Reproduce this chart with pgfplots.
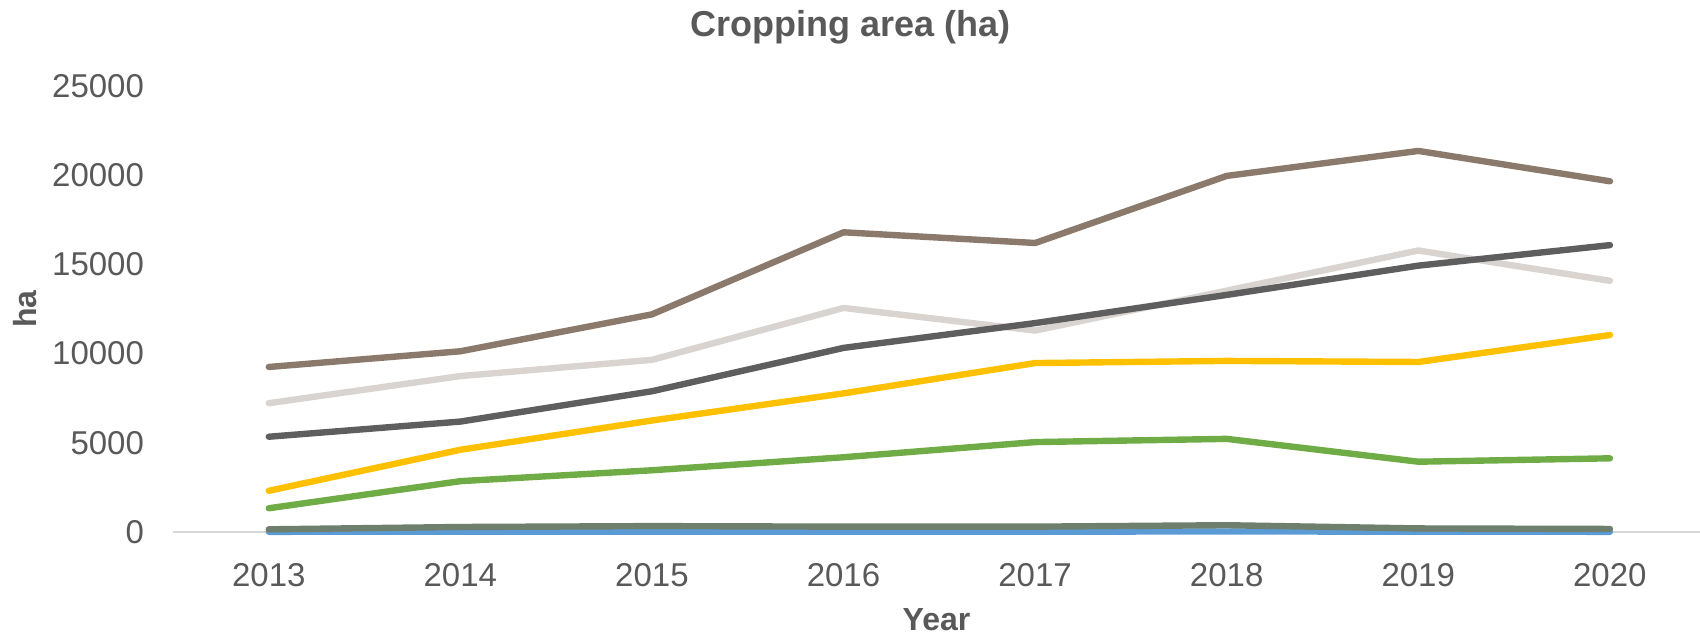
\documentclass[border=0pt]{standalone}
\usepackage{pgfplots}
\pgfplotsset{compat=1.18}
\usepackage{fontspec}
\setmainfont{Liberation Sans}
\definecolor{txt}{HTML}{595959}
\definecolor{cBrown}{HTML}{8B7A6B}
\definecolor{cLight}{HTML}{D9D4CF}
\definecolor{cDark}{HTML}{5E5E5E}
\definecolor{cYellow}{HTML}{FFC000}
\definecolor{cGreen}{HTML}{6FAC46}
\definecolor{cGG}{HTML}{6E7F6E}
\definecolor{cBlue}{HTML}{5B9BD5}
\definecolor{grid}{HTML}{D9D9D9}
\begin{document}
\begin{tikzpicture}
\useasboundingbox (0,0) rectangle (850pt,318pt);
\begin{axis}[
  at={(86.5pt,52pt)}, anchor=south west,
  scale only axis, width=763.5pt, height=223pt,
  xmin=2012.5, xmax=2020.47, ymin=0, ymax=25000,
  clip=false,
  axis line style={draw=none},
  xtick={2013,...,2020}, ytick={0,5000,...,25000},
  tick style={draw=none},
  scaled y ticks=false,
  /pgf/number format/assume math mode=true,
  xticklabel={\pgfmathprintnumber[1000 sep={},fixed]{\tick}},
  yticklabel={\pgfmathprintnumber[1000 sep={},fixed]{\tick}},
  tick label style={font=\fontsize{16.5}{18}\selectfont, text=txt},
  yticklabel style={anchor=east, xshift=-11pt},
  xticklabel style={anchor=north, yshift=-12pt},
  title={Cropping area (ha)},
  title style={font=\fontsize{18}{20}\selectfont\bfseries, text=txt, at={(axis description cs:0.4434,1)}, anchor=center, yshift=23.5pt},
  xlabel={Year}, ylabel={ha},
  xlabel style={font=\fontsize{16}{18}\selectfont\bfseries, text=txt, at={(axis description cs:0.5,0)}, anchor=center, yshift=-44pt},
  ylabel style={font=\fontsize{16}{18}\selectfont\bfseries, text=txt, at={(axis description cs:0,0.5)}, anchor=center, yshift=74pt},
  every axis plot/.append style={line width=3.2pt, line join=round, line cap=round, mark=none},
]
\draw[grid, line width=1pt] (axis cs:2012.5,0) -- (axis cs:2020.47,0);
\addplot[cBlue] coordinates {(2013,10) (2014,20) (2015,20) (2016,20) (2017,20) (2018,30) (2019,20) (2020,10)};
\addplot[cGG] coordinates {(2013,150) (2014,280) (2015,330) (2016,300) (2017,300) (2018,380) (2019,200) (2020,170)};
\addplot[cGreen] coordinates {(2013,1330) (2014,2850) (2015,3460) (2016,4190) (2017,5040) (2018,5220) (2019,3940) (2020,4130)};
\addplot[cYellow] coordinates {(2013,2310) (2014,4610) (2015,6250) (2016,7770) (2017,9470) (2018,9590) (2019,9530) (2020,11040)};
\addplot[cLight] coordinates {(2013,7220) (2014,8740) (2015,9650) (2016,12560) (2017,11290) (2018,13530) (2019,15780) (2020,14080)};
\addplot[cDark] coordinates {(2013,5340) (2014,6190) (2015,7890) (2016,10320) (2017,11710) (2018,13290) (2019,14930) (2020,16080)};
\addplot[cBrown] coordinates {(2013,9250) (2014,10130) (2015,12200) (2016,16800) (2017,16200) (2018,19960) (2019,21360) (2020,19660)};
\end{axis}
\end{tikzpicture}
\end{document}
